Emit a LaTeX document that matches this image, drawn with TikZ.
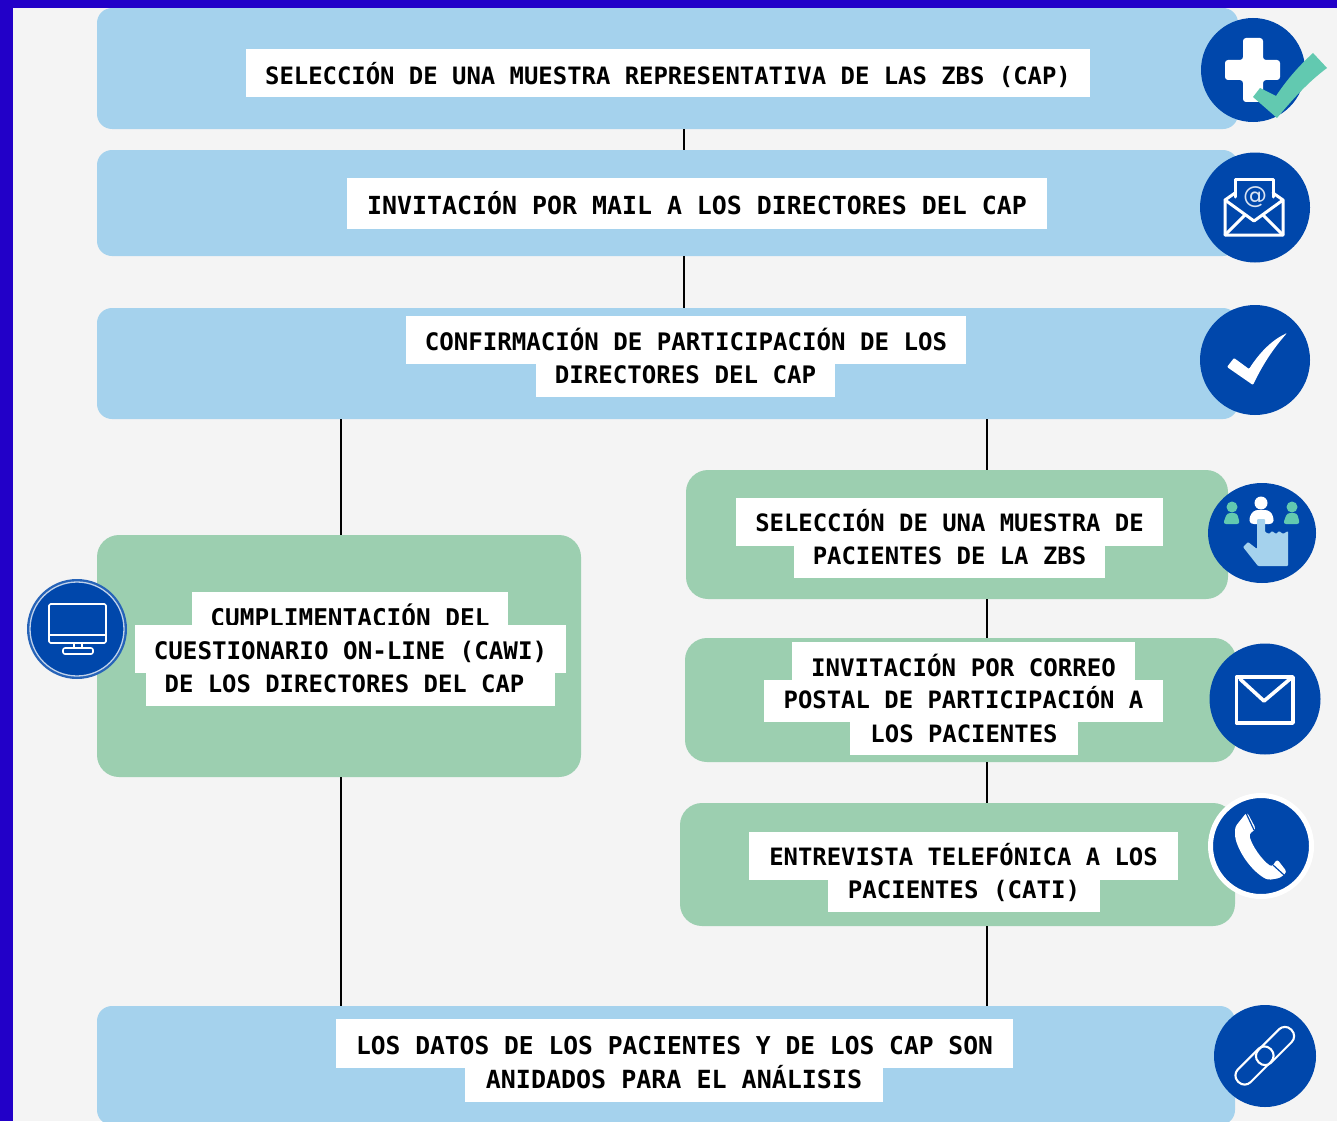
\documentclass[tikz,border=0pt]{standalone}
\usepackage{fontspec}
\usetikzlibrary{shapes.geometric}
\newfontfamily\labfont{DejaVu Sans Mono}
\definecolor{framecol}{HTML}{2200C8}
\definecolor{pagecol}{HTML}{F4F4F4}
\definecolor{skycol}{HTML}{A5D2ED}
\definecolor{mintcol}{HTML}{9CCFB0}
\definecolor{discol}{HTML}{0047AB}
\definecolor{tealcol}{HTML}{62C9B0}
\tikzset{
  panel/.style={inner sep=0pt,outer sep=0pt,draw=none,rectangle},
  skypanel/.style={panel,fill=skycol,rounded corners=15pt},
  mintpanel/.style={panel,fill=mintcol,rounded corners=22pt},
  linebox/.style={rectangle,fill=white,inner sep=0pt,outer sep=0pt,text=black,
    font=\labfont\bfseries},
  conn/.style={draw=black,line width=2.6pt},
  disc/.style={circle,fill=discol,inner sep=0pt,outer sep=0pt},
  glyph/.style={draw=white,line width=3pt,line join=round,line cap=round},
}
% style, name, x1, y1, x2, y2
\newcommand{\boxpanel}[6]{\node[#1,minimum width={(#5-#3)*1pt},minimum height={(#6-#4)*1pt}] (#2) at ({(#3+#5)/2},{(#4+#6)/2}) {};}
% [font size], name, x1, y1, x2, y2, text centre y, text
\newcommand{\strip}[8][23.9]{\pgfmathsetmacro{\stripdy}{#7-(#4+#6)/2}%
  \node[linebox,minimum width={(#5-#3)*1pt},minimum height={(#6-#4)*1pt}] (#2) at ({(#3+#5)/2},{(#4+#6)/2})
   {\fontsize{#1}{28}\selectfont\raisebox{\dimexpr-\stripdy pt-9.3pt}[0pt][0pt]{#8}};}
\begin{document}
\begin{tikzpicture}[x=1pt,y=-1pt]
\useasboundingbox (0,0) rectangle (1337,1121);
\clip (0,0) rectangle (1337,1121);
\fill[pagecol] (0,0) rectangle (1337,1121);
% panels
\boxpanel{skypanel}{pa}{97}{8}{1238}{129}
\boxpanel{skypanel}{pb}{97}{150}{1238}{256}
\boxpanel{skypanel}{pc}{97}{308}{1238}{419}
\boxpanel{mintpanel}{pd}{686}{470}{1228}{599}
\boxpanel{mintpanel}{pe}{685}{638}{1236}{762}
\boxpanel{mintpanel}{pf}{680}{803}{1235}{926}
\boxpanel{mintpanel}{pg}{97}{535}{581}{777}
\boxpanel{skypanel}{ph}{97}{1006}{1235}{1125}
% connectors
\coordinate (xa) at (684,0);
\coordinate (xl) at (341,0);
\coordinate (xr) at (987,0);
\draw[conn] (pa.south -| xa) -- (pb.north -| xa);
\draw[conn] (pb.south -| xa) -- (pc.north -| xa);
\draw[conn] (pc.south -| xl) -- (pg.north -| xl);
\draw[conn] (pg.south -| xl) -- (ph.north -| xl);
\draw[conn] (pc.south -| xr) -- (pd.north -| xr);
\draw[conn] (pd.south -| xr) -- (pe.north -| xr);
\draw[conn] (pe.south -| xr) -- (pf.north -| xr);
\draw[conn] (pf.south -| xr) -- (ph.north -| xr);
% text strips
\strip{ta}{246}{49}{1090}{97}{75}{SELECCIÓN DE UNA MUESTRA REPRESENTATIVA DE LAS ZBS (CAP)}
\strip[24.9]{tb}{347}{178}{1047}{229}{205}{INVITACIÓN POR MAIL A LOS DIRECTORES DEL CAP}
\strip[24.1]{tca}{406}{316}{966}{364}{341}{CONFIRMACIÓN DE PARTICIPACIÓN DE LOS}
\strip[24.1]{tcb}{536}{364}{835}{397}{374}{DIRECTORES DEL CAP}
\strip{tda}{736}{498}{1163}{546}{522}{SELECCIÓN DE UNA MUESTRA DE}
\strip{tdb}{794}{546}{1105}{578}{555}{PACIENTES DE LA ZBS}
\strip[24.1]{tea}{792}{642}{1135}{680}{667}{INVITACIÓN POR CORREO}
\strip{teb}{764}{680}{1163}{722}{699}{POSTAL DE PARTICIPACIÓN A}
\strip{tec}{850}{722}{1078}{755}{733}{LOS PACIENTES}
\strip{tfa}{749}{832}{1178}{880}{856}{ENTREVISTA TELEFÓNICA A LOS}
\strip[24.1]{tfb}{828}{880}{1100}{912}{889}{PACIENTES (CATI)}
\strip[24.4]{tga}{192}{592}{508}{625}{617}{CUMPLIMENTACIÓN DEL}
\strip[24.2]{tgb}{135}{625}{566}{673}{650}{CUESTIONARIO ON-LINE (CAWI)}
\strip{tgc}{146}{673}{555}{706}{683}{\hspace*{-12pt}DE LOS DIRECTORES DEL CAP}
\strip[24.6]{tha}{336}{1019}{1013}{1068}{1045}{LOS DATOS DE LOS PACIENTES Y DE LOS CAP SON}
\strip[25]{thb}{465}{1068}{883}{1102}{1079}{ANIDADOS PARA EL ANÁLISIS}
% icon 1: cross and tick
\node[disc,minimum size=104pt] (ia) at (1253,70) {};
\fill[white,rounded corners=3pt] (1243,38) -- (1263,38) -- (1263,60) -- (1280,60) -- (1280,80) -- (1263,80) -- (1263,102) -- (1243,102) -- (1243,80) -- (1225,80) -- (1225,60) -- (1243,60) -- cycle;
\fill[tealcol] (1253,97) -- (1260,88) -- (1276,96) .. controls (1288,78) and (1300,65) .. (1313,53) -- (1327,68) .. controls (1308,82) and (1292,100) .. (1277,118) -- cycle;
% icon 2: open envelope
\node[disc,minimum size=110pt] (ib) at (1255,207.5) {};
\draw[glyph] (1235,197) -- (1235,179) -- (1273,179) -- (1273,197);
\draw[glyph] (1235,193) -- (1225,200) -- (1225,235) -- (1283,235) -- (1283,200) -- (1273,193);
\draw[glyph] (1225,200) -- (1254,221) -- (1283,200);
\draw[glyph] (1225,235) -- (1245,215);
\draw[glyph] (1283,235) -- (1263,215);
\node[inner sep=0pt,text=white!85!discol,font=\fontspec{DejaVu Sans}\fontsize{24}{24}\selectfont] (iat) at (1255,197) {@};
% icon 3: tick
\node[disc,minimum size=110pt] (ic) at (1255,360) {};
\fill[white,rounded corners=1pt] (1227,367) -- (1234,358) -- (1249,369) .. controls (1260,352) and (1272,340) .. (1287,333) .. controls (1272,350) and (1262,366) .. (1253,385) -- cycle;
% icon 4: people and hand
\node[disc,ellipse,minimum width=108pt,minimum height=100pt] (id) at (1262,533) {};
\fill[tealcol] (1232,507) circle (5.5);
\fill[tealcol,rounded corners=3pt] (1223,524) -- (1227,513) -- (1237,513) -- (1240,524) -- cycle;
\fill[tealcol] (1292,507) circle (5.5);
\fill[tealcol,rounded corners=3pt] (1283,524) -- (1287,513) -- (1297,513) -- (1300,524) -- cycle;
\fill[white] (1261,503) circle (6.5);
\fill[white,rounded corners=6pt] (1248,524) -- (1252,510) -- (1271,510) -- (1275,524) -- cycle;
\fill[skycol,rounded corners=1pt] (1257,519) -- (1265,519) -- (1265,532) -- (1269,534) -- (1272,531) -- (1276,534) -- (1279,531) -- (1283,534) -- (1288,531) -- (1288,566) -- (1258,566) -- (1243,547) -- (1248,542) -- (1257,549) -- cycle;
% icon 5: envelope
\node[disc,minimum size=111pt] (ie) at (1265,699) {};
\draw[glyph,line width=3.6pt,line cap=butt] (1236.5,677) rectangle (1293,723);
\draw[glyph,line width=3.6pt] (1240,679) -- (1264,701) -- (1290,679);
% icon 6: telephone
\node[disc,minimum size=101pt,draw=white,line width=5pt] (if) at (1261,846) {};
\fill[white,rounded corners=3pt] (1235,827) -- (1247,812) -- (1256,829) -- (1249,834) .. controls (1252,846) and (1262,860) .. (1272,867) -- (1277,859) -- (1287,872) -- (1280,878) -- (1268,880) .. controls (1253,872) and (1240,855) .. (1235,837) -- cycle;
\draw[discol,line width=1.2pt] (1246,813) -- (1254,830);
\draw[discol,line width=1.2pt] (1273,865) -- (1284,875);
% icon 7: chain link
\node[disc,minimum size=102pt] (ig) at (1265,1056) {};
\draw[white,line width=2.1pt,rounded corners=8.5pt,shift={(1254.5,1065.5)},rotate=45] (-23,-9) rectangle (23,9);
\draw[white,line width=2.1pt,rounded corners=8.5pt,shift={(1275,1046)},rotate=45] (-23,-9) rectangle (23,9);
% icon 8: monitor
\node[disc,minimum size=100pt,fill=discol!85!white] (ih) at (77,629) {};
\node[disc,minimum size=94pt,draw=white!75!discol,line width=1.3pt] (ii) at (77,629) {};
\draw[glyph,line width=1.6pt,rounded corners=1.5pt] (49,604) rectangle (106,643);
\draw[glyph,line width=1.6pt] (49,635) -- (106,635);
\draw[glyph,line width=1.6pt] (74,643) -- (74,648) (82,643) -- (82,648);
\draw[glyph,line width=1.6pt,rounded corners=2pt] (63,648) rectangle (93,654);
% frame
\fill[framecol] (0,0) rectangle (1337,8);
\fill[framecol] (0,0) rectangle (13,1121);
\end{tikzpicture}
\end{document}
